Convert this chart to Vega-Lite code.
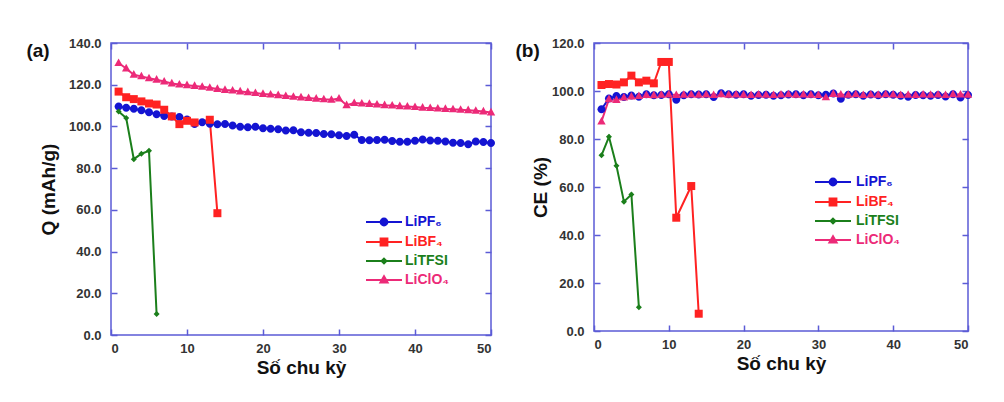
{
  "$schema": "https://vega.github.io/schema/vega-lite/v6.json",
  "background": "white",
  "padding": {"left": 25, "top": 36, "right": 5, "bottom": 5},
  "spacing": 18,
  "config": {
    "font": "Liberation Sans",
    "view": {"stroke": "#5b5bd6", "strokeWidth": 1.5},
    "axis": {
      "domain": false, "grid": false, "offset": -6,
      "tickColor": "#5b5bd6", "tickWidth": 1.5, "tickSize": 6,
      "labelFont": "Liberation Sans", "labelFontWeight": "bold", "labelFontSize": 13, "labelColor": "#333333",
      "titleFont": "Liberation Sans", "titleFontWeight": "bold", "titleFontSize": 19, "titleColor": "#111111"
    },
    "legend": {"padding": 0}
  },
  "datasets": {
    "qa": [
      {"s":"LiPF6","c":1,"v":109.6},{"s":"LiPF6","c":2,"v":108.9},{"s":"LiPF6","c":3,"v":108.5},{"s":"LiPF6","c":4,"v":107.7},{"s":"LiPF6","c":5,"v":106.8},
      {"s":"LiPF6","c":6,"v":105.8},{"s":"LiPF6","c":7,"v":105.0},{"s":"LiPF6","c":8,"v":104.8},{"s":"LiPF6","c":9,"v":104.5},{"s":"LiPF6","c":10,"v":103.3},
      {"s":"LiPF6","c":11,"v":101.2},{"s":"LiPF6","c":12,"v":102.0},{"s":"LiPF6","c":13,"v":101.3},{"s":"LiPF6","c":14,"v":101.0},{"s":"LiPF6","c":15,"v":101.2},
      {"s":"LiPF6","c":16,"v":100.4},{"s":"LiPF6","c":17,"v":99.8},{"s":"LiPF6","c":18,"v":99.6},{"s":"LiPF6","c":19,"v":99.8},{"s":"LiPF6","c":20,"v":99.1},
      {"s":"LiPF6","c":21,"v":98.9},{"s":"LiPF6","c":22,"v":98.6},{"s":"LiPF6","c":23,"v":98.0},{"s":"LiPF6","c":24,"v":98.2},{"s":"LiPF6","c":25,"v":97.2},
      {"s":"LiPF6","c":26,"v":97.0},{"s":"LiPF6","c":27,"v":96.8},{"s":"LiPF6","c":28,"v":96.4},{"s":"LiPF6","c":29,"v":96.3},{"s":"LiPF6","c":30,"v":95.8},
      {"s":"LiPF6","c":31,"v":95.4},{"s":"LiPF6","c":32,"v":96.0},{"s":"LiPF6","c":33,"v":93.5},{"s":"LiPF6","c":34,"v":93.4},{"s":"LiPF6","c":35,"v":93.5},
      {"s":"LiPF6","c":36,"v":93.6},{"s":"LiPF6","c":37,"v":93.0},{"s":"LiPF6","c":38,"v":92.6},{"s":"LiPF6","c":39,"v":92.7},{"s":"LiPF6","c":40,"v":93.1},
      {"s":"LiPF6","c":41,"v":93.7},{"s":"LiPF6","c":42,"v":93.2},{"s":"LiPF6","c":43,"v":93.1},{"s":"LiPF6","c":44,"v":92.8},{"s":"LiPF6","c":45,"v":92.2},
      {"s":"LiPF6","c":46,"v":92.0},{"s":"LiPF6","c":47,"v":91.5},{"s":"LiPF6","c":48,"v":92.8},{"s":"LiPF6","c":49,"v":92.5},{"s":"LiPF6","c":50,"v":92.0},
      {"s":"LiBF4","c":1,"v":116.7},{"s":"LiBF4","c":2,"v":114.0},{"s":"LiBF4","c":3,"v":113.1},{"s":"LiBF4","c":4,"v":112.0},{"s":"LiBF4","c":5,"v":111.0},
      {"s":"LiBF4","c":6,"v":110.5},{"s":"LiBF4","c":7,"v":108.0},{"s":"LiBF4","c":8,"v":104.8},{"s":"LiBF4","c":9,"v":101.1},{"s":"LiBF4","c":10,"v":102.7},
      {"s":"LiBF4","c":11,"v":101.9},{"s":"LiBF4","c":13,"v":103.2},{"s":"LiBF4","c":14,"v":58.4},
      {"s":"LiTFSI","c":1,"v":107.2},{"s":"LiTFSI","c":2,"v":104.0},{"s":"LiTFSI","c":3,"v":84.3},{"s":"LiTFSI","c":4,"v":86.9},{"s":"LiTFSI","c":5,"v":88.3},{"s":"LiTFSI","c":6,"v":10.1},
      {"s":"LiClO4","c":1,"v":130.4},{"s":"LiClO4","c":2,"v":127.8},{"s":"LiClO4","c":3,"v":124.8},{"s":"LiClO4","c":4,"v":124.0},{"s":"LiClO4","c":5,"v":123.1},
      {"s":"LiClO4","c":6,"v":122.4},{"s":"LiClO4","c":7,"v":121.5},{"s":"LiClO4","c":8,"v":120.6},{"s":"LiClO4","c":9,"v":120.1},{"s":"LiClO4","c":10,"v":119.8},
      {"s":"LiClO4","c":11,"v":119.4},{"s":"LiClO4","c":12,"v":119.0},{"s":"LiClO4","c":13,"v":118.5},{"s":"LiClO4","c":14,"v":118.0},{"s":"LiClO4","c":15,"v":117.5},
      {"s":"LiClO4","c":16,"v":117.2},{"s":"LiClO4","c":17,"v":116.8},{"s":"LiClO4","c":18,"v":116.4},{"s":"LiClO4","c":19,"v":116.0},{"s":"LiClO4","c":20,"v":115.6},
      {"s":"LiClO4","c":21,"v":115.3},{"s":"LiClO4","c":22,"v":115.0},{"s":"LiClO4","c":23,"v":114.6},{"s":"LiClO4","c":24,"v":114.2},{"s":"LiClO4","c":25,"v":113.9},
      {"s":"LiClO4","c":26,"v":113.6},{"s":"LiClO4","c":27,"v":113.3},{"s":"LiClO4","c":28,"v":113.0},{"s":"LiClO4","c":29,"v":112.8},{"s":"LiClO4","c":30,"v":113.4},
      {"s":"LiClO4","c":31,"v":110.2},{"s":"LiClO4","c":32,"v":111.2},{"s":"LiClO4","c":33,"v":111.0},{"s":"LiClO4","c":34,"v":110.8},{"s":"LiClO4","c":35,"v":110.5},
      {"s":"LiClO4","c":36,"v":110.2},{"s":"LiClO4","c":37,"v":110.0},{"s":"LiClO4","c":38,"v":109.7},{"s":"LiClO4","c":39,"v":109.5},{"s":"LiClO4","c":40,"v":109.3},
      {"s":"LiClO4","c":41,"v":109.0},{"s":"LiClO4","c":42,"v":108.8},{"s":"LiClO4","c":43,"v":108.6},{"s":"LiClO4","c":44,"v":108.4},{"s":"LiClO4","c":45,"v":108.2},
      {"s":"LiClO4","c":46,"v":108.0},{"s":"LiClO4","c":47,"v":107.8},{"s":"LiClO4","c":48,"v":107.5},{"s":"LiClO4","c":49,"v":107.2},{"s":"LiClO4","c":50,"v":106.7}
    ],
    "ce": [
      {"s":"LiPF6","c":1,"v":92.4},{"s":"LiPF6","c":2,"v":96.9},{"s":"LiPF6","c":3,"v":97.9},{"s":"LiPF6","c":4,"v":97.5},{"s":"LiPF6","c":5,"v":98.1},
      {"s":"LiPF6","c":6,"v":97.6},{"s":"LiPF6","c":7,"v":98.6},{"s":"LiPF6","c":8,"v":98.2},{"s":"LiPF6","c":9,"v":98.3},{"s":"LiPF6","c":10,"v":98.6},
      {"s":"LiPF6","c":11,"v":96.4},{"s":"LiPF6","c":12,"v":98.2},{"s":"LiPF6","c":13,"v":98.6},{"s":"LiPF6","c":14,"v":98.5},{"s":"LiPF6","c":15,"v":98.6},
      {"s":"LiPF6","c":16,"v":97.5},{"s":"LiPF6","c":17,"v":99.1},{"s":"LiPF6","c":18,"v":98.6},{"s":"LiPF6","c":19,"v":98.4},{"s":"LiPF6","c":20,"v":98.6},
      {"s":"LiPF6","c":21,"v":98.0},{"s":"LiPF6","c":22,"v":98.3},{"s":"LiPF6","c":23,"v":98.4},{"s":"LiPF6","c":24,"v":98.0},{"s":"LiPF6","c":25,"v":98.2},
      {"s":"LiPF6","c":26,"v":98.5},{"s":"LiPF6","c":27,"v":98.6},{"s":"LiPF6","c":28,"v":98.2},{"s":"LiPF6","c":29,"v":98.6},{"s":"LiPF6","c":30,"v":98.2},
      {"s":"LiPF6","c":31,"v":98.4},{"s":"LiPF6","c":32,"v":99.0},{"s":"LiPF6","c":33,"v":96.8},{"s":"LiPF6","c":34,"v":98.4},{"s":"LiPF6","c":35,"v":98.6},
      {"s":"LiPF6","c":36,"v":98.0},{"s":"LiPF6","c":37,"v":98.5},{"s":"LiPF6","c":38,"v":98.2},{"s":"LiPF6","c":39,"v":98.6},{"s":"LiPF6","c":40,"v":98.4},
      {"s":"LiPF6","c":41,"v":98.0},{"s":"LiPF6","c":42,"v":97.6},{"s":"LiPF6","c":43,"v":98.3},{"s":"LiPF6","c":44,"v":98.2},{"s":"LiPF6","c":45,"v":98.0},
      {"s":"LiPF6","c":46,"v":98.3},{"s":"LiPF6","c":47,"v":97.7},{"s":"LiPF6","c":48,"v":98.6},{"s":"LiPF6","c":49,"v":97.3},{"s":"LiPF6","c":50,"v":98.3},
      {"s":"LiBF4","c":1,"v":102.5},{"s":"LiBF4","c":2,"v":102.9},{"s":"LiBF4","c":3,"v":102.7},{"s":"LiBF4","c":4,"v":103.6},{"s":"LiBF4","c":5,"v":106.4},
      {"s":"LiBF4","c":6,"v":103.6},{"s":"LiBF4","c":7,"v":104.3},{"s":"LiBF4","c":8,"v":103.2},{"s":"LiBF4","c":9,"v":112.1},{"s":"LiBF4","c":10,"v":112.1},
      {"s":"LiBF4","c":11,"v":47.2},{"s":"LiBF4","c":13,"v":60.4},{"s":"LiBF4","c":14,"v":7.2},
      {"s":"LiTFSI","c":1,"v":73.2},{"s":"LiTFSI","c":2,"v":80.9},{"s":"LiTFSI","c":3,"v":68.9},{"s":"LiTFSI","c":4,"v":53.9},{"s":"LiTFSI","c":5,"v":56.9},{"s":"LiTFSI","c":6,"v":9.9},
      {"s":"LiClO4","c":1,"v":87.3},{"s":"LiClO4","c":2,"v":96.6},{"s":"LiClO4","c":3,"v":96.3},{"s":"LiClO4","c":4,"v":97.3},{"s":"LiClO4","c":5,"v":97.7},
      {"s":"LiClO4","c":6,"v":97.9},{"s":"LiClO4","c":7,"v":98.3},{"s":"LiClO4","c":8,"v":98.2},{"s":"LiClO4","c":9,"v":98.4},{"s":"LiClO4","c":10,"v":98.5},
      {"s":"LiClO4","c":11,"v":98.3},{"s":"LiClO4","c":12,"v":98.4},{"s":"LiClO4","c":13,"v":98.5},{"s":"LiClO4","c":14,"v":98.4},{"s":"LiClO4","c":15,"v":98.5},
      {"s":"LiClO4","c":16,"v":98.3},{"s":"LiClO4","c":17,"v":98.6},{"s":"LiClO4","c":18,"v":98.4},{"s":"LiClO4","c":19,"v":98.5},{"s":"LiClO4","c":20,"v":98.4},
      {"s":"LiClO4","c":21,"v":98.3},{"s":"LiClO4","c":22,"v":98.5},{"s":"LiClO4","c":23,"v":98.4},{"s":"LiClO4","c":24,"v":98.3},{"s":"LiClO4","c":25,"v":98.5},
      {"s":"LiClO4","c":26,"v":98.6},{"s":"LiClO4","c":27,"v":98.4},{"s":"LiClO4","c":28,"v":98.5},{"s":"LiClO4","c":29,"v":98.4},{"s":"LiClO4","c":30,"v":98.3},
      {"s":"LiClO4","c":31,"v":97.4},{"s":"LiClO4","c":32,"v":98.8},{"s":"LiClO4","c":33,"v":98.5},{"s":"LiClO4","c":34,"v":98.4},{"s":"LiClO4","c":35,"v":98.6},
      {"s":"LiClO4","c":36,"v":98.3},{"s":"LiClO4","c":37,"v":98.5},{"s":"LiClO4","c":38,"v":98.4},{"s":"LiClO4","c":39,"v":98.6},{"s":"LiClO4","c":40,"v":98.5},
      {"s":"LiClO4","c":41,"v":98.3},{"s":"LiClO4","c":42,"v":98.4},{"s":"LiClO4","c":43,"v":98.3},{"s":"LiClO4","c":44,"v":98.5},{"s":"LiClO4","c":45,"v":98.4},
      {"s":"LiClO4","c":46,"v":98.5},{"s":"LiClO4","c":47,"v":98.3},{"s":"LiClO4","c":48,"v":98.6},{"s":"LiClO4","c":49,"v":98.5},{"s":"LiClO4","c":50,"v":98.4}
    ]
  },
  "hconcat": [
    {
      "width": 380, "height": 292,
      "data": {"name": "qa"},
      "title": {"text": "(a)", "anchor": "start", "frame": "bounds", "fontSize": 19, "fontWeight": "bold", "color": "#111111", "offset": 0, "dx": -13, "dy": 24},
      "layer": [
        {
          "mark": {"type": "line", "strokeWidth": 2},
          "encoding": {
            "x": {"field": "c", "type": "quantitative", "scale": {"domain": [0, 50], "nice": false},
                  "axis": {"orient": "bottom", "values": [0,10,20,30,40,50], "format": "d", "title": "Số chu kỳ", "labelPadding": 7, "titlePadding": 3}},
            "y": {"field": "v", "type": "quantitative", "scale": {"domain": [0, 140], "nice": false},
                  "axis": {"orient": "left", "values": [0,20,40,60,80,100,120,140], "format": ".1f", "title": "Q (mAh/g)", "labelPadding": 10, "titlePadding": 10}},
            "color": {"field": "s", "type": "nominal",
                      "scale": {"domain": ["LiPF6","LiBF4","LiTFSI","LiClO4"], "range": ["#1414d2","#ff2222","#1b7f1b","#ec2a78"]},
                      "legend": {"orient": "none", "legendX": 266, "legendY": 172, "title": null, "symbolSize": 64, "labelOffset": 14, "rowPadding": 4,
                                 "labelFontSize": 14, "labelFontWeight": "bold", "labelFont": "Liberation Sans",
                                 "labelExpr": "datum.label == 'LiPF6' ? 'LiPF₆' : datum.label == 'LiBF4' ? 'LiBF₄' : datum.label == 'LiClO4' ? 'LiClO₄' : datum.label",
                                 "encode": {
                                   "symbols": {"update": {
                                     "shape": {"signal": "datum.value == 'LiPF6' ? 'M-4.5,0H4.5M-0.85,0A0.85,0.85 0 1,0 0.85,0A0.85,0.85 0 1,0 -0.85,0Z' : datum.value == 'LiBF4' ? 'M-4.5,0H4.5M-0.85,-0.85H0.85V0.85H-0.85Z' : datum.value == 'LiTFSI' ? 'M-4.5,0H4.5M0,-0.6L0.6,0L0,0.6L-0.6,0Z' : 'M-4.5,0H4.5M0,-0.95L0.9,0.65H-0.9Z'"},
                                     "fill": {"signal": "datum.value == 'LiPF6' ? '#1414d2' : datum.value == 'LiBF4' ? '#ff2222' : datum.value == 'LiTFSI' ? '#1b7f1b' : '#ec2a78'"},
                                     "stroke": {"signal": "datum.value == 'LiPF6' ? '#1414d2' : datum.value == 'LiBF4' ? '#ff2222' : datum.value == 'LiTFSI' ? '#1b7f1b' : '#ec2a78'"},
                                     "strokeWidth": {"value": 2}, "opacity": {"value": 1}
                                   }},
                                   "labels": {"update": {
                                     "fill": {"signal": "datum.value == 'LiPF6' ? '#1414d2' : datum.value == 'LiBF4' ? '#ff2222' : datum.value == 'LiTFSI' ? '#1b7f1b' : '#ec2a78'"}
                                   }}
                                 }}}
          }
        },
        {
          "transform": [{"filter": "datum.s == 'LiPF6'"}],
          "mark": {"type": "point", "filled": true, "opacity": 1, "size": 64, "color": "#1414d2", "shape": "M-1,0A1,1 0 1,0 1,0A1,1 0 1,0 -1,0Z"},
          "encoding": {
            "x": {"field": "c", "type": "quantitative", "axis": {"orient": "top", "values": [0,10,20,30,40,50], "labels": false, "title": null}},
            "y": {"field": "v", "type": "quantitative", "axis": {"orient": "right", "values": [0,20,40,60,80,100,120,140], "labels": false, "title": null}}
          }
        },
        {
          "transform": [{"filter": "datum.s == 'LiBF4'"}],
          "mark": {"type": "point", "filled": true, "opacity": 1, "size": 64, "color": "#ff2222", "shape": "M-1,-1H1V1H-1Z"},
          "encoding": {
            "x": {"field": "c", "type": "quantitative", "axis": null},
            "y": {"field": "v", "type": "quantitative", "axis": null}
          }
        },
        {
          "transform": [{"filter": "datum.s == 'LiTFSI'"}],
          "mark": {"type": "point", "filled": true, "opacity": 1, "size": 64, "color": "#1b7f1b", "shape": "M0,-0.75L0.75,0L0,0.75L-0.75,0Z"},
          "encoding": {
            "x": {"field": "c", "type": "quantitative", "axis": null},
            "y": {"field": "v", "type": "quantitative", "axis": null}
          }
        },
        {
          "transform": [{"filter": "datum.s == 'LiClO4'"}],
          "mark": {"type": "point", "filled": true, "opacity": 1, "size": 64, "color": "#ec2a78", "shape": "M0,-1.15L1.05,0.75H-1.05Z"},
          "encoding": {
            "x": {"field": "c", "type": "quantitative", "axis": null},
            "y": {"field": "v", "type": "quantitative", "axis": null}
          }
        }
      ],
      "resolve": {"axis": {"x": "independent", "y": "independent"}}
    },
    {
      "width": 374, "height": 288,
      "data": {"name": "ce"},
      "title": {"text": "(b)", "anchor": "start", "frame": "bounds", "fontSize": 19, "fontWeight": "bold", "color": "#111111", "offset": 0, "dx": -16, "dy": 24},
      "layer": [
        {
          "mark": {"type": "line", "strokeWidth": 2},
          "encoding": {
            "x": {"field": "c", "type": "quantitative", "scale": {"domain": [0, 50], "nice": false},
                  "axis": {"orient": "bottom", "values": [0,10,20,30,40,50], "format": "d", "title": "Số chu kỳ", "labelPadding": 7, "titlePadding": 3}},
            "y": {"field": "v", "type": "quantitative", "scale": {"domain": [0, 120], "nice": false},
                  "axis": {"orient": "left", "values": [0,20,40,60,80,100,120], "format": ".1f", "title": "CE (%)", "labelPadding": 10, "titlePadding": 1}},
            "color": {"field": "s", "type": "nominal",
                      "scale": {"domain": ["LiPF6","LiBF4","LiTFSI","LiClO4"], "range": ["#1414d2","#ff2222","#1b7f1b","#ec2a78"]},
                      "legend": {"orient": "none", "legendX": 232, "legendY": 132, "title": null, "symbolSize": 64, "labelOffset": 16, "rowPadding": 4,
                                 "labelFontSize": 14, "labelFontWeight": "bold", "labelFont": "Liberation Sans",
                                 "labelExpr": "datum.label == 'LiPF6' ? 'LiPF₆' : datum.label == 'LiBF4' ? 'LiBF₄' : datum.label == 'LiClO4' ? 'LiClO₄' : datum.label",
                                 "encode": {
                                   "symbols": {"update": {
                                     "shape": {"signal": "datum.value == 'LiPF6' ? 'M-4.5,0H4.5M-0.85,0A0.85,0.85 0 1,0 0.85,0A0.85,0.85 0 1,0 -0.85,0Z' : datum.value == 'LiBF4' ? 'M-4.5,0H4.5M-0.85,-0.85H0.85V0.85H-0.85Z' : datum.value == 'LiTFSI' ? 'M-4.5,0H4.5M0,-0.6L0.6,0L0,0.6L-0.6,0Z' : 'M-4.5,0H4.5M0,-0.95L0.9,0.65H-0.9Z'"},
                                     "fill": {"signal": "datum.value == 'LiPF6' ? '#1414d2' : datum.value == 'LiBF4' ? '#ff2222' : datum.value == 'LiTFSI' ? '#1b7f1b' : '#ec2a78'"},
                                     "stroke": {"signal": "datum.value == 'LiPF6' ? '#1414d2' : datum.value == 'LiBF4' ? '#ff2222' : datum.value == 'LiTFSI' ? '#1b7f1b' : '#ec2a78'"},
                                     "strokeWidth": {"value": 2}, "opacity": {"value": 1}
                                   }},
                                   "labels": {"update": {
                                     "fill": {"signal": "datum.value == 'LiPF6' ? '#1414d2' : datum.value == 'LiBF4' ? '#ff2222' : datum.value == 'LiTFSI' ? '#1b7f1b' : '#ec2a78'"}
                                   }}
                                 }}}
          }
        },
        {
          "transform": [{"filter": "datum.s == 'LiPF6'"}],
          "mark": {"type": "point", "filled": true, "opacity": 1, "size": 64, "color": "#1414d2", "shape": "M-1,0A1,1 0 1,0 1,0A1,1 0 1,0 -1,0Z"},
          "encoding": {
            "x": {"field": "c", "type": "quantitative", "axis": {"orient": "top", "values": [0,10,20,30,40,50], "labels": false, "title": null}},
            "y": {"field": "v", "type": "quantitative", "axis": {"orient": "right", "values": [0,20,40,60,80,100,120], "labels": false, "title": null}}
          }
        },
        {
          "transform": [{"filter": "datum.s == 'LiBF4'"}],
          "mark": {"type": "point", "filled": true, "opacity": 1, "size": 64, "color": "#ff2222", "shape": "M-1,-1H1V1H-1Z"},
          "encoding": {
            "x": {"field": "c", "type": "quantitative", "axis": null},
            "y": {"field": "v", "type": "quantitative", "axis": null}
          }
        },
        {
          "transform": [{"filter": "datum.s == 'LiTFSI'"}],
          "mark": {"type": "point", "filled": true, "opacity": 1, "size": 64, "color": "#1b7f1b", "shape": "M0,-0.75L0.75,0L0,0.75L-0.75,0Z"},
          "encoding": {
            "x": {"field": "c", "type": "quantitative", "axis": null},
            "y": {"field": "v", "type": "quantitative", "axis": null}
          }
        },
        {
          "transform": [{"filter": "datum.s == 'LiClO4'"}],
          "mark": {"type": "point", "filled": true, "opacity": 1, "size": 64, "color": "#ec2a78", "shape": "M0,-1.15L1.05,0.75H-1.05Z"},
          "encoding": {
            "x": {"field": "c", "type": "quantitative", "axis": null},
            "y": {"field": "v", "type": "quantitative", "axis": null}
          }
        }
      ],
      "resolve": {"axis": {"x": "independent", "y": "independent"}}
    }
  ],
  "resolve": {"scale": {"color": "independent"}}
}
